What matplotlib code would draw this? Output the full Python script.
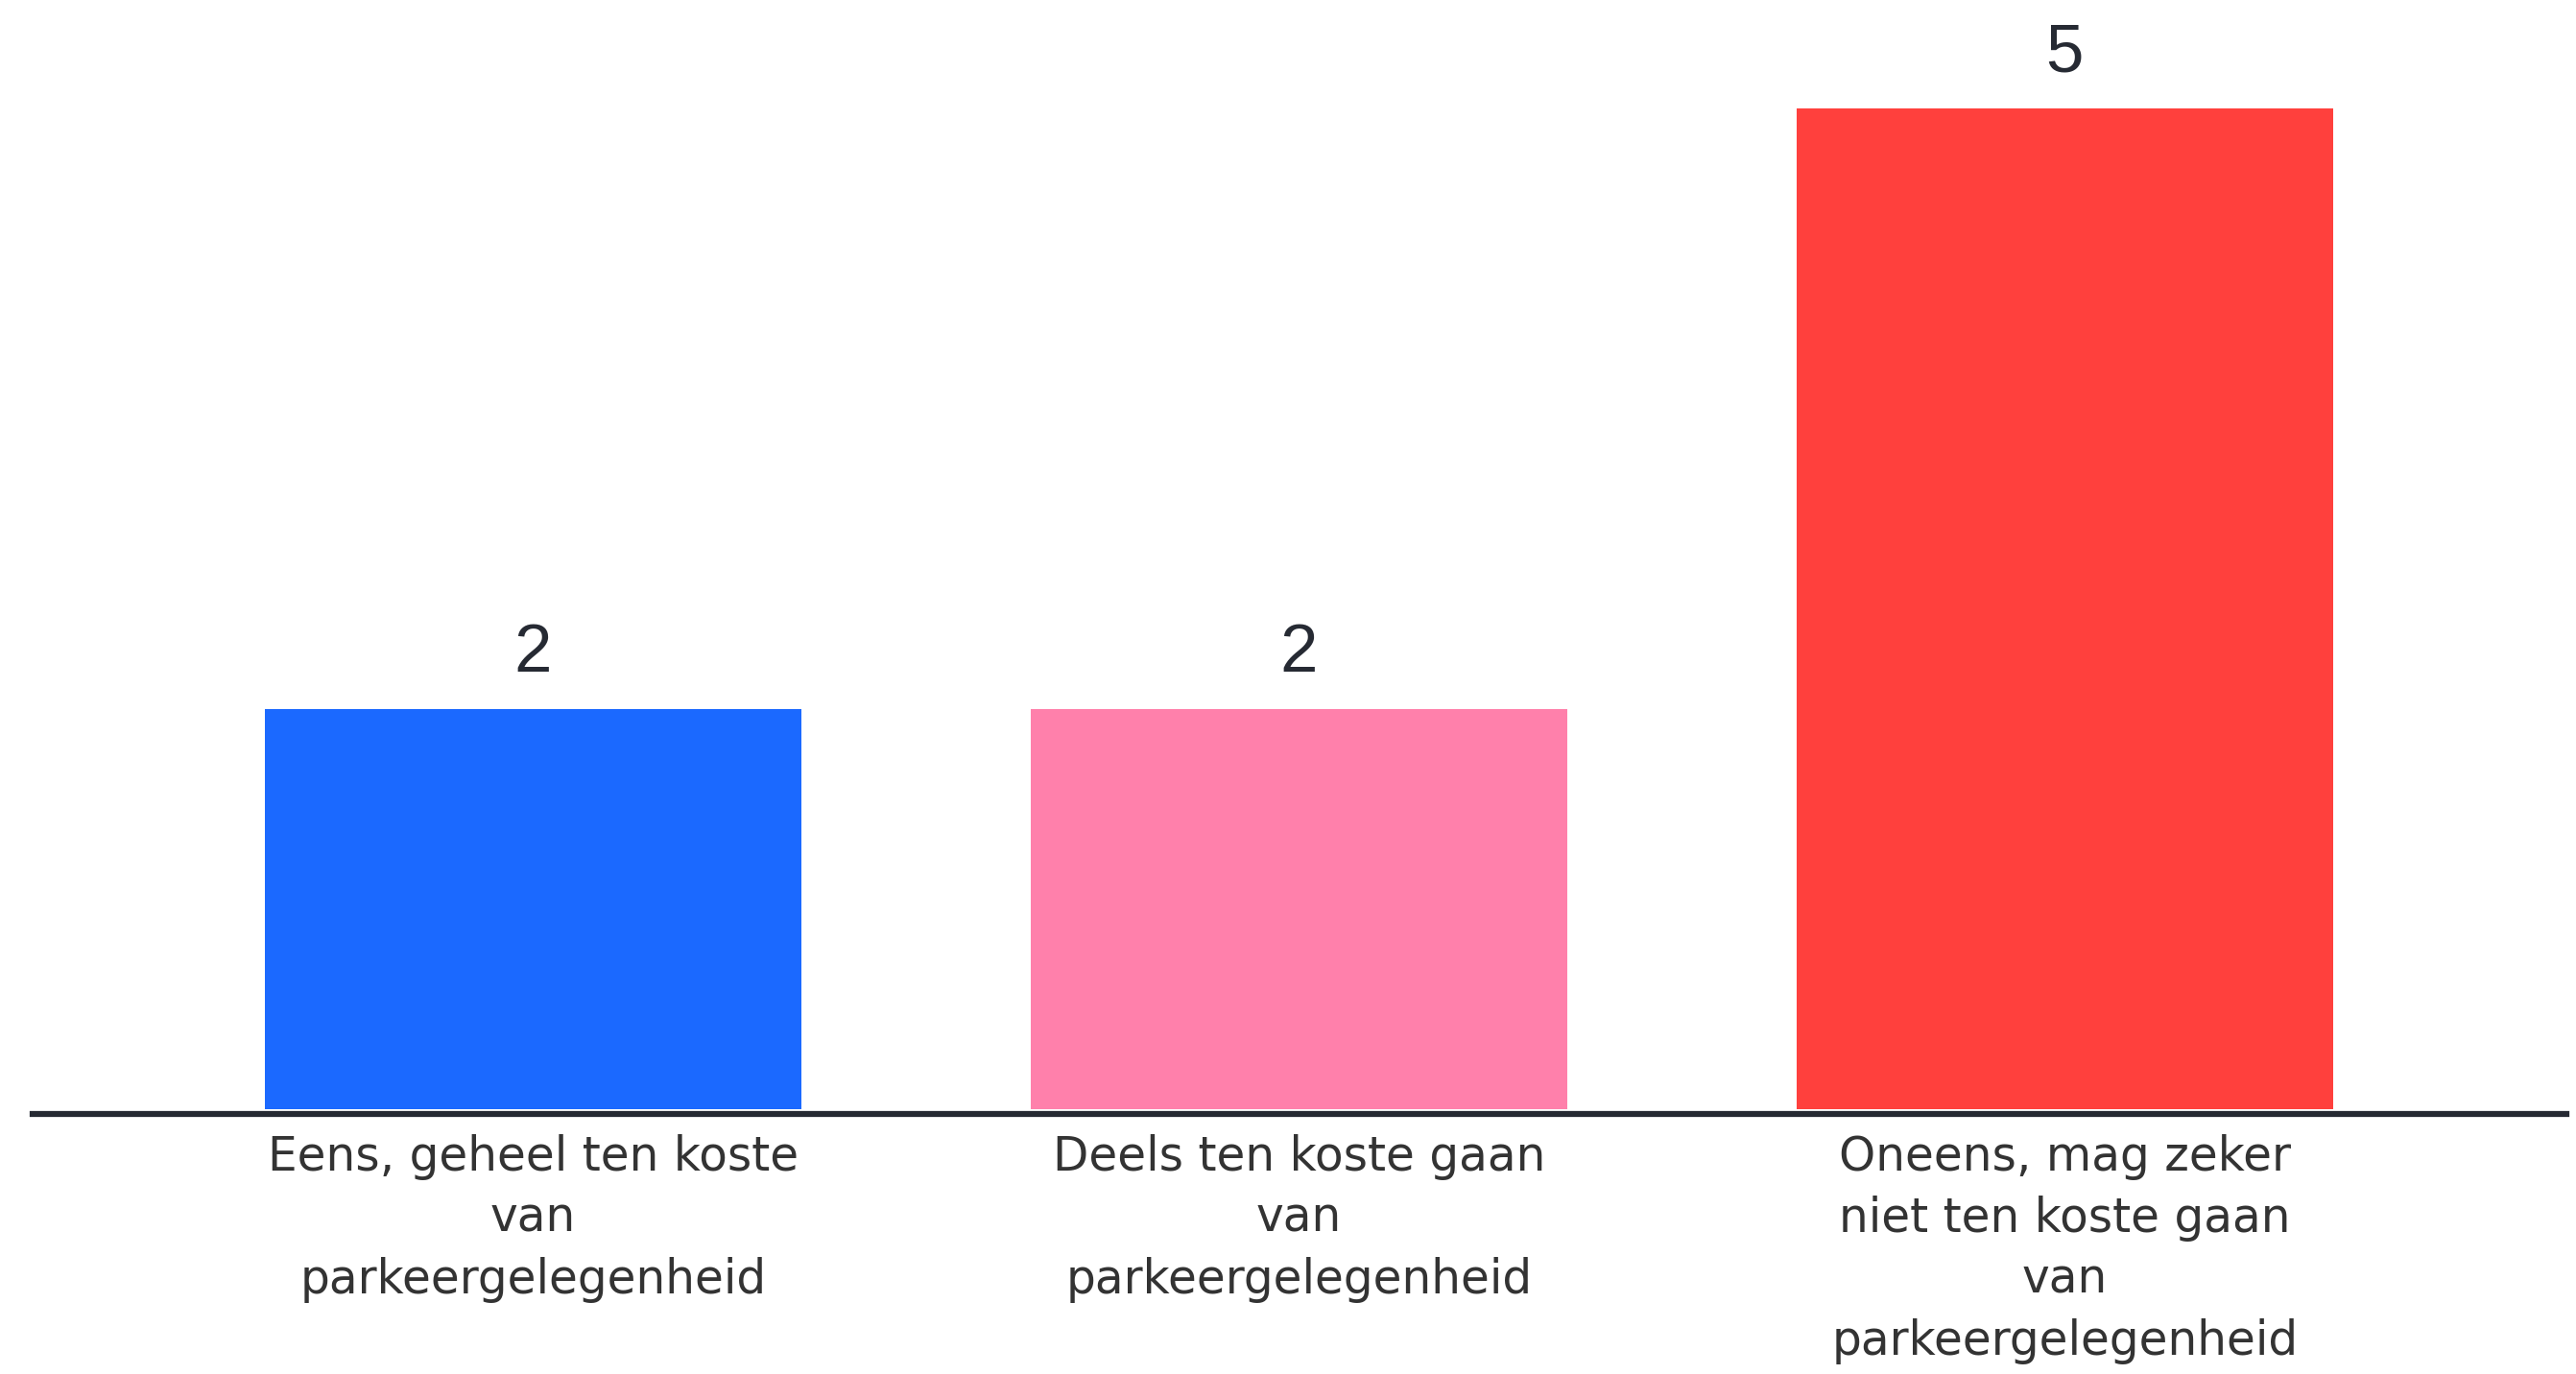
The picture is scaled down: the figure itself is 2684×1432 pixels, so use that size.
import matplotlib.pyplot as plt

# data
categories = ["Eens, geheel ten koste\nvan\nparkeergelegenheid",
              "Deels ten koste gaan\nvan\nparkeergelegenheid",
              "Oneens, mag zeker\nniet ten koste gaan\nvan\nparkeergelegenheid"]
values = [2, 2, 5]
colors = ["#1b69ff", "#ff80ab", "#ff403d"]

fig = plt.figure(figsize=(26.84, 14.32), dpi=100)
ax = fig.add_axes([0.0127, 0.1892, 0.9836, 0.8108])

x = range(len(values))
bars = ax.bar(x, values, width=0.7, color=colors, zorder=2)

for xi, v in zip(x, values):
    ax.annotate(str(v), (xi, v), xytext=(0, 17), textcoords='offset points',
                ha='center', va='bottom', fontsize=51, color='#262a33',
                family=['Liberation Sans', 'DejaVu Sans'])

ax.set_xlim(-0.653, 2.655)
ax.set_ylim(-0.025, 5.541)

ax.set_xticks(list(x))
ax.set_xticklabels(categories, fontsize=35, color='#333333',
                   family=['DejaVu Sans'], linespacing=1.42)
ax.tick_params(axis='x', length=0, pad=15)
ax.set_yticks([])

for s in ['top', 'right', 'left']:
    ax.spines[s].set_visible(False)
ax.spines['bottom'].set_linewidth(4.5)
ax.spines['bottom'].set_color('#262a33')
ax.spines['bottom'].set_zorder(3)

fig.savefig('out.png', dpi=100, facecolor='white')
